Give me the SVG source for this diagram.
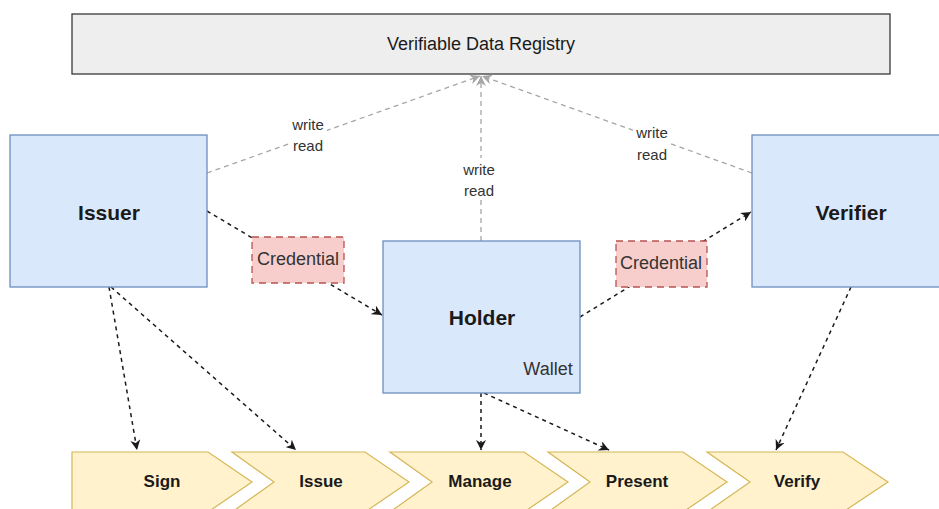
<svg xmlns="http://www.w3.org/2000/svg" width="939" height="509" viewBox="0 0 939 509">
<style>
text{font-family:"Liberation Sans",Arial,sans-serif;fill:#1a1a1a;text-anchor:middle;dominant-baseline:central}
.box{fill:#dae8fc;stroke:#6c8ebf;stroke-width:1.3}
.cred{fill:#f8cecc;stroke:#b85450;stroke-width:1.3;stroke-dasharray:7,5}
.step{fill:#fff2cc;stroke:#d6b656;stroke-width:1.2}
.big{font-size:21px;font-weight:bold}
.norm{font-size:18px}
.small{font-size:15px;fill:#333}
.stept{font-size:17px;font-weight:bold}
.gl{fill:none;stroke:#a6a6a6;stroke-width:1.3;stroke-dasharray:5,4;marker-end:url(#ga)}
.bl{fill:none;stroke:#1a1a1a;stroke-width:1.5;stroke-dasharray:4,4;marker-end:url(#ba)}
</style>
<defs>
<marker id="ga" markerWidth="12" markerHeight="10" refX="10" refY="5" orient="auto" markerUnits="userSpaceOnUse">
<path d="M0,0 L10,5 L0,10 L3,5 Z" fill="#a6a6a6"/>
</marker>
<marker id="ba" markerWidth="12" markerHeight="10" refX="10" refY="5" orient="auto" markerUnits="userSpaceOnUse">
<path d="M0,0 L10,5 L0,10 L3,5 Z" fill="#1a1a1a"/>
</marker>
</defs>
<g id="registry">
<rect x="72" y="14" width="818" height="60" fill="#eeeeee" stroke="#36393d" stroke-width="1.3"/>
<text x="481" y="44" class="norm">Verifiable Data Registry</text>
</g>
<g id="connectors">
<path class="gl" d="M207,173 L480,76"/>
<path class="gl" d="M481,241 L481,76"/>
<path class="gl" d="M752,173 L482,76"/>
<path class="bl" d="M207,211 L382,315"/>
<path class="bl" d="M580,317 L751,212"/>
<path class="bl" d="M109,287 L137,450"/>
<path class="bl" d="M111,287 L296,450"/>
<path class="bl" d="M481,393 L481,450"/>
<path class="bl" d="M484,393 L609,450"/>
<path class="bl" d="M851,287 L776,450"/>
</g>
<g id="label-issuer-registry">
<rect x="289" y="114" width="38" height="42" fill="#fff"/>
<text x="308" y="124" class="small">write</text>
<text x="308" y="145" class="small">read</text>
</g>
<g id="label-holder-registry">
<rect x="460" y="158" width="38" height="42" fill="#fff"/>
<text x="479" y="169" class="small">write</text>
<text x="479" y="190" class="small">read</text>
</g>
<g id="label-verifier-registry">
<rect x="633" y="122" width="38" height="42" fill="#fff"/>
<text x="652" y="132" class="small">write</text>
<text x="652" y="154" class="small">read</text>
</g>
<g id="issuer">
<rect class="box" x="10" y="135" width="197" height="152"/>
<text x="109" y="212" class="big">Issuer</text>
</g>
<g id="verifier">
<rect class="box" x="752" y="135" width="197" height="152"/>
<text x="851" y="212" class="big">Verifier</text>
</g>
<g id="holder">
<rect class="box" x="383" y="241" width="197" height="152"/>
<text x="482" y="317" class="big">Holder</text>
<text x="548" y="369" class="norm" style="fill:#333">Wallet</text>
</g>
<g id="credential1">
<rect class="cred" x="252" y="237" width="92" height="46"/>
<text x="298" y="259" class="norm" style="fill:#333">Credential</text>
</g>
<g id="credential2">
<rect class="cred" x="616" y="241" width="91" height="46"/>
<text x="661" y="263" class="norm" style="fill:#333">Credential</text>
</g>
<g id="sign">
<path class="step" d="M72,452 L208,452 L252,482 L208,512 L72,512 Z"/>
<text x="162" y="481" class="stept">Sign</text>
</g>
<g id="issue">
<path class="step" d="M232,452 L365,452 L409,482 L365,512 L232,512 L274,482 Z"/>
<text x="321" y="481" class="stept">Issue</text>
</g>
<g id="manage">
<path class="step" d="M390,452 L524,452 L568,482 L524,512 L390,512 L432,482 Z"/>
<text x="480" y="481" class="stept">Manage</text>
</g>
<g id="present">
<path class="step" d="M548,452 L683,452 L727,482 L683,512 L548,512 L590,482 Z"/>
<text x="637" y="481" class="stept">Present</text>
</g>
<g id="verify">
<path class="step" d="M707,452 L843,452 L888,482 L843,512 L707,512 L750,482 Z"/>
<text x="797" y="481" class="stept">Verify</text>
</g>
</svg>
